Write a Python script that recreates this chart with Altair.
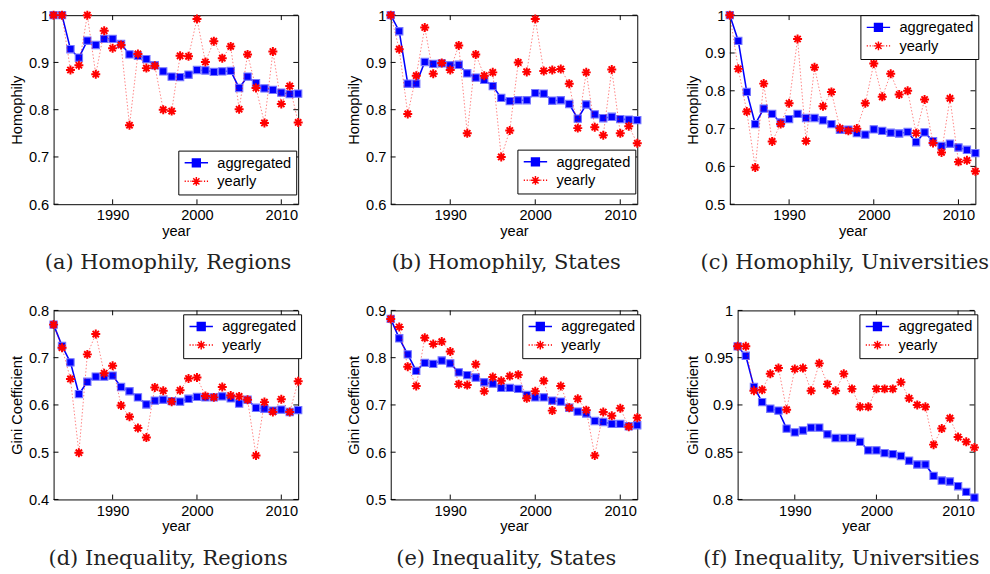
import altair as alt
import pandas as pd

years = list(range(1983, 2013))
series_names = ["aggregated", "yearly"]
x_ticks = [1990, 2000, 2010]

# (a) Homophily, Regions
agg_a = [1.0, 1.0, 0.928, 0.910, 0.946, 0.937, 0.950, 0.950, 0.939, 0.917, 0.914, 0.907, 0.894, 0.881, 0.870,
         0.869, 0.874, 0.884, 0.883, 0.880, 0.881, 0.882, 0.846, 0.870, 0.856, 0.845, 0.842, 0.836, 0.833, 0.834]
yr_a = [1.0, 1.0, 0.884, 0.894, 1.0, 0.875, 0.967, 0.930, 0.937, 0.767, 0.918, 0.888, 0.893, 0.800, 0.797,
        0.914, 0.913, 0.992, 0.901, 0.945, 0.909, 0.934, 0.801, 0.917, 0.846, 0.772, 0.923, 0.812, 0.850, 0.773]
# (b) Homophily, States
agg_b = [1.0, 0.966, 0.855, 0.855, 0.901, 0.897, 0.898, 0.894, 0.895, 0.877, 0.868, 0.863, 0.850, 0.825, 0.818,
         0.820, 0.820, 0.835, 0.834, 0.819, 0.820, 0.812, 0.781, 0.811, 0.790, 0.782, 0.785, 0.780, 0.779, 0.778]
yr_b = [1.0, 0.928, 0.791, 0.872, 0.974, 0.876, 0.899, 0.884, 0.936, 0.750, 0.917, 0.872, 0.879, 0.700, 0.756,
        0.900, 0.880, 0.992, 0.882, 0.884, 0.886, 0.855, 0.761, 0.879, 0.763, 0.746, 0.885, 0.750, 0.765, 0.729]
# (c) Homophily, Universities
agg_c = [1.0, 0.932, 0.797, 0.712, 0.753, 0.739, 0.716, 0.725, 0.739, 0.728, 0.728, 0.722, 0.712, 0.697, 0.697,
         0.688, 0.684, 0.698, 0.694, 0.689, 0.687, 0.691, 0.664, 0.690, 0.667, 0.654, 0.660, 0.650, 0.644, 0.635]
yr_c = [1.0, 0.858, 0.745, 0.597, 0.819, 0.666, 0.712, 0.767, 0.937, 0.667, 0.862, 0.759, 0.797, 0.701, 0.694,
        0.700, 0.767, 0.872, 0.784, 0.845, 0.790, 0.800, 0.688, 0.777, 0.662, 0.637, 0.780, 0.612, 0.616, 0.587]
# (d) Inequality, Regions
agg_d = [0.770, 0.725, 0.690, 0.623, 0.649, 0.660, 0.660, 0.662, 0.638, 0.629, 0.616, 0.601, 0.609, 0.611, 0.608,
         0.607, 0.613, 0.617, 0.616, 0.616, 0.618, 0.614, 0.603, 0.611, 0.594, 0.592, 0.588, 0.590, 0.585, 0.589]
yr_d = [0.770, 0.721, 0.655, 0.499, 0.707, 0.750, 0.667, 0.683, 0.599, 0.575, 0.551, 0.531, 0.637, 0.630, 0.607,
        0.631, 0.656, 0.658, 0.619, 0.616, 0.638, 0.620, 0.618, 0.611, 0.493, 0.606, 0.585, 0.612, 0.585, 0.650]
# (e) Inequality, States
agg_e = [0.882, 0.841, 0.807, 0.772, 0.789, 0.787, 0.794, 0.788, 0.769, 0.763, 0.758, 0.748, 0.745, 0.736, 0.736,
         0.734, 0.721, 0.716, 0.716, 0.709, 0.707, 0.694, 0.686, 0.682, 0.666, 0.664, 0.660, 0.660, 0.655, 0.657]
yr_e = [0.882, 0.865, 0.781, 0.740, 0.842, 0.829, 0.834, 0.813, 0.744, 0.742, 0.786, 0.729, 0.759, 0.751, 0.761,
        0.764, 0.714, 0.729, 0.751, 0.688, 0.740, 0.694, 0.713, 0.689, 0.593, 0.685, 0.677, 0.693, 0.654, 0.673]
# (f) Inequality, Universities
agg_f = [0.962, 0.952, 0.919, 0.903, 0.896, 0.894, 0.875, 0.871, 0.873, 0.876, 0.876, 0.869, 0.865, 0.865, 0.865,
         0.861, 0.852, 0.852, 0.849, 0.848, 0.846, 0.841, 0.837, 0.837, 0.825, 0.820, 0.819, 0.814, 0.808, 0.802]
yr_f = [0.962, 0.962, 0.915, 0.916, 0.933, 0.939, 0.895, 0.938, 0.939, 0.915, 0.944, 0.922, 0.915, 0.933, 0.917,
        0.898, 0.898, 0.917, 0.917, 0.917, 0.924, 0.907, 0.900, 0.898, 0.858, 0.875, 0.886, 0.866, 0.861, 0.855]

panels = [
    dict(cap="(a) Homophily, Regions", yt="Homophily", agg=agg_a, yr=yr_a, dom=[0.6, 1.0],
         ticks=[0.6, 0.7, 0.8, 0.9, 1.0], w=251, lx=128, ly=139, dx=-8),
    dict(cap="(b) Homophily, States", yt="Homophily", agg=agg_b, yr=yr_b, dom=[0.6, 1.0],
         ticks=[0.6, 0.7, 0.8, 0.9, 1.0], w=253, lx=130, ly=138, dx=-8),
    dict(cap="(c) Homophily, Universities", yt="Homophily", agg=agg_c, yr=yr_c, dom=[0.5, 1.0],
         ticks=[0.5, 0.6, 0.7, 0.8, 0.9, 1.0], w=252, lx=134, ly=0, dx=-8),
    dict(cap="(d) Inequality, Regions", yt="Gini Coefficient", agg=agg_d, yr=yr_d, dom=[0.4, 0.8],
         ticks=[0.4, 0.5, 0.6, 0.7, 0.8], w=251, lx=133, ly=4, dx=-8),
    dict(cap="(e) Inequality, States", yt="Gini Coefficient", agg=agg_e, yr=yr_e, dom=[0.5, 0.9],
         ticks=[0.5, 0.6, 0.7, 0.8, 0.9], w=253, lx=135, ly=4, dx=-8),
    dict(cap="(f) Inequality, Universities", yt="Gini Coefficient", agg=agg_f, yr=yr_f, dom=[0.8, 1.0],
         ticks=[0.8, 0.85, 0.9, 0.95, 1.0], w=243, lx=125, ly=4, dx=-15),
]

H = 194
FONT = "Liberation Sans"
BLUE = "#0000ff"
RED = "#ff0000"
AST = "M-1,0H1M0,-1V1M-0.7,-0.7L0.7,0.7M-0.7,0.7L0.7,-0.7"
LEG_AGG = "M-2,0H2M-0.67,-0.67H0.67V0.67H-0.67Z"
LEG_YR = ("M-2,0H-1.8M-1.5,0H-1.3M-1.0,0H-0.85M0.85,0H1.0M1.3,0H1.5M1.8,0H2"
          "M-0.75,0H0.75M0,-0.75V0.75M-0.53,-0.53L0.53,0.53M-0.53,0.53L0.53,-0.53")


def panel(p):
    w = p["w"]
    df = pd.DataFrame({
        "year": years * 2,
        "value": p["agg"] + p["yr"],
        "series": ["aggregated"] * len(years) + ["yearly"] * len(years),
    })
    xs = alt.Scale(domain=[1983, 2012], nice=False, zero=False)
    ys = alt.Scale(domain=p["dom"], nice=False, zero=False)
    xaxis = alt.Axis(values=x_ticks, format="d", title="year", grid=False, ticks=False, domain=False,
                     labelFont=FONT, labelFontSize=15, labelColor="black", labelPadding=4,
                     titleFont=FONT, titleFontSize=15, titleFontWeight="normal", titleColor="black",
                     titlePadding=1)
    yaxis = alt.Axis(values=p["ticks"], format=".2~f", title=p["yt"], grid=False, ticks=False, domain=False,
                     labelFont=FONT, labelFontSize=15, labelColor="black", labelPadding=5,
                     titleFont=FONT, titleFontSize=15, titleFontWeight="normal", titleColor="black",
                     titlePadding=4)
    X = alt.X("year:Q", scale=xs, axis=xaxis)
    Y = alt.Y("value:Q", scale=ys, axis=yaxis)

    base = alt.Chart(df)
    agg_line = base.transform_filter(alt.datum.series == "aggregated").mark_line(
        color=BLUE, strokeWidth=1.6).encode(x=X, y=Y)
    agg_pts = base.transform_filter(alt.datum.series == "aggregated").mark_square(
        size=56, color=BLUE, stroke="#7777ff", strokeWidth=1.1, opacity=1).encode(x=X, y=Y)
    yr_line = base.transform_filter(alt.datum.series == "yearly").mark_line(
        color=RED, strokeWidth=1, strokeDash=[1.5, 2], opacity=0.5).encode(x=X, y=Y)
    yr_pts = base.transform_filter(alt.datum.series == "yearly").mark_point(
        shape=AST, size=85, filled=False, stroke=RED, strokeWidth=2, opacity=1).encode(x=X, y=Y)

    leg = alt.Legend(title=None, orient="none", legendX=p["lx"], legendY=p["ly"], direction="vertical",
                     padding=5, rowPadding=3, strokeColor="black", fillColor="white", cornerRadius=0,
                     symbolSize=144, symbolStrokeWidth=1.5, symbolOffset=6, labelOffset=14,
                     labelFont=FONT, labelFontSize=15, labelColor="black", symbolOpacity=1, labelLimit=300)
    legend_layer = base.mark_point(opacity=0).encode(
        x=X, y=Y,
        stroke=alt.Stroke("series:N", scale=alt.Scale(domain=series_names, range=[BLUE, RED]), legend=leg),
        fill=alt.Fill("series:N", scale=alt.Scale(domain=series_names, range=[BLUE, "transparent"]), legend=leg),
        shape=alt.Shape("series:N", scale=alt.Scale(domain=series_names, range=[LEG_AGG, LEG_YR]), legend=leg),
    )

    xt = pd.DataFrame({"year": x_ticks})
    yt = pd.DataFrame({"value": p["ticks"]})
    L = 5
    tb = alt.Chart(xt).mark_rule(color="black", strokeWidth=1).encode(x=X, y=alt.value(H), y2=alt.value(H - L))
    tt = alt.Chart(xt).mark_rule(color="black", strokeWidth=1).encode(x=X, y=alt.value(0), y2=alt.value(L))
    tl = alt.Chart(yt).mark_rule(color="black", strokeWidth=1).encode(y=Y, x=alt.value(0), x2=alt.value(L))
    tr = alt.Chart(yt).mark_rule(color="black", strokeWidth=1).encode(y=Y, x=alt.value(w), x2=alt.value(w - L))

    return alt.layer(tb, tt, tl, tr, agg_line, agg_pts, yr_line, yr_pts, legend_layer).properties(
        width=w, height=H,
        title=alt.TitleParams(p["cap"], orient="bottom", anchor="middle", offset=15, dx=p["dx"],
                              font="DejaVu Serif", fontSize=21.5, fontWeight="normal", color="#222222"),
    )


def indep(c):
    return c.resolve_scale(stroke="independent", fill="independent", shape="independent").resolve_legend(
        stroke="independent", fill="independent", shape="independent")


row1 = indep(alt.hconcat(*[panel(p) for p in panels[:3]], spacing=39))
row2 = indep(alt.hconcat(*[panel(p) for p in panels[3:]], spacing=39))
chart = indep(alt.vconcat(row1, row2, spacing=29)).properties(
    padding={"left": 9, "top": -2, "right": 0, "bottom": 0},
    background="white",
).configure_view(stroke="black", strokeWidth=1)

chart.save("out.html", embed_options={"renderer": "svg", "actions": False})
